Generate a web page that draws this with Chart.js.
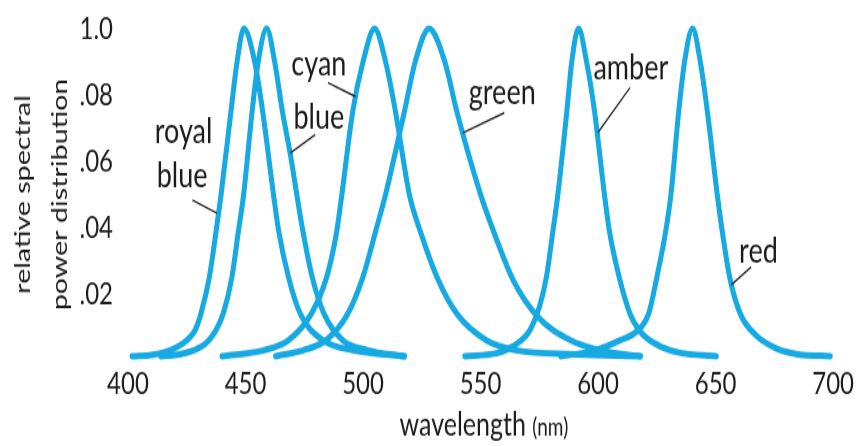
<!DOCTYPE html>
<html>
<head>
<meta charset="utf-8">
<script src="https://cdn.jsdelivr.net/npm/chart.js@4.4.1/dist/chart.umd.min.js"></script>
<style>
  html, body { margin: 0; padding: 0; background: #fff; }
  body { width: 860px; height: 446px; }
  /* the source figure is stretched vertically, so the canvas is too */
  #wrap { width: 860px; height: 343px; transform: scale(1, 1.3003); transform-origin: 0 0; }
</style>
</head>
<body>
<div id="wrap"><canvas id="spectra" width="860" height="343"></canvas></div>
<script>
// wavelength (nm) / relative power, one pair per LED
const royalBlueNm  = [401.7, 410, 416, 421, 425, 428.5, 431, 434.6, 437.5, 439.6, 443.8, 446.4, 449.3, 453.9, 457.3, 461.9, 464.1, 468.3, 473.3, 483, 495.7, 517.6];
const royalBlueVal = [0.012, 0.016, 0.025, 0.04, 0.06, 0.09, 0.14, 0.25, 0.39, 0.50, 0.75, 0.90, 1.0, 0.90, 0.75, 0.50, 0.39, 0.25, 0.14, 0.06, 0.03, 0.012];

const blueNm  = [414, 422, 428, 433, 437, 440.5, 444.2, 447, 449.2, 452.8, 455.4, 459, 462.4, 465.7, 469.1, 471.8, 474.4, 478.4, 483.4, 491.4, 502, 517.6];
const blueVal = [0.012, 0.018, 0.03, 0.05, 0.085, 0.14, 0.25, 0.39, 0.50, 0.75, 0.90, 1.0, 0.90, 0.75, 0.62, 0.50, 0.39, 0.25, 0.14, 0.06, 0.03, 0.012];

const cyanNm  = [440, 457.7, 468.3, 478, 484.5, 488.6, 491, 495.6, 500, 504.9, 509.6, 513.8, 519.7, 524.3, 531.5, 539.9, 552.5, 565.2, 590, 618];
const cyanVal = [0.012, 0.03, 0.06, 0.14, 0.25, 0.38, 0.50, 0.75, 0.90, 1.0, 0.90, 0.75, 0.50, 0.39, 0.25, 0.14, 0.06, 0.03, 0.018, 0.012];

const greenNm  = [462.8, 474.6, 484.3, 493.5, 499.9, 505.4, 509.6, 517.6, 522.2, 528.1, 534.8, 539.9, 550, 556, 564, 574.5, 588.4, 601, 618];
const greenVal = [0.012, 0.03, 0.06, 0.14, 0.25, 0.39, 0.50, 0.75, 0.90, 1.0, 0.90, 0.75, 0.50, 0.38, 0.24, 0.13, 0.06, 0.03, 0.012];

const amberNm  = [543.3, 556.8, 562.2, 567.3, 571, 575, 578, 580.8, 582.9, 586.7, 588.8, 591.7, 595.1, 598.5, 602.7, 604.8, 609, 613.6, 617, 621, 627, 635, 650.3];
const amberVal = [0.012, 0.021, 0.036, 0.06, 0.09, 0.16, 0.25, 0.39, 0.50, 0.75, 0.90, 1.0, 0.90, 0.75, 0.50, 0.39, 0.25, 0.14, 0.095, 0.065, 0.04, 0.022, 0.012];

const redNm  = [584.2, 598.9, 609.4, 617, 621.5, 625, 628.8, 631, 634.3, 636.8, 640.2, 643.5, 646.5, 650.7, 652.8, 656, 660.5, 667.2, 676, 685, 698.8];
const redVal = [0.012, 0.03, 0.06, 0.09, 0.14, 0.25, 0.39, 0.50, 0.75, 0.90, 1.0, 0.90, 0.75, 0.50, 0.39, 0.25, 0.14, 0.075, 0.035, 0.018, 0.012];

const yTickLabels = ['', '.02', '.04', '.06', '.08', '1.0'];

// curve names: text lines, where each line starts (nm, value) and the leader line
const curveLabels = [
  { lines: ['royal', 'blue'], at: [[411.4, 0.653], [412.2, 0.52]], from: [427.4, 0.483], to: [437.8, 0.444] },
  { lines: ['cyan'],  at: [[469.5, 0.858]], from: [485.1, 0.837], to: [496.8, 0.795] },
  { lines: ['blue'],  at: [[470.4, 0.70]],  from: [479.6, 0.680], to: [469.1, 0.625] },
  { lines: ['green'], at: [[545, 0.773]],   from: [560.1, 0.746], to: [542.5, 0.686] },
  { lines: ['amber'], at: [[598, 0.849]],   from: [613.6, 0.822], to: [599.9, 0.686] },
  { lines: ['red'],   at: [[660, 0.296]],   from: [665.1, 0.281], to: [656.6, 0.227] }
];

const lineColor = '#16a9e2';
const textColor = '#1c1c1c';
const xTickFont = { family: 'Lato, sans-serif', size: 24, lineHeight: 1 };
// small line height keeps the top label from pushing the plot area down
const yTickFont = { family: 'Lato, sans-serif', size: 24, lineHeight: 0.55 };

function toPoints(nm, val) {
  return nm.map((x, i) => ({ x, y: val[i] }));
}

const series = [
  ['royal blue', royalBlueNm, royalBlueVal],
  ['blue', blueNm, blueVal],
  ['cyan', cyanNm, cyanVal],
  ['green', greenNm, greenVal],
  ['amber', amberNm, amberVal],
  ['red', redNm, redVal]
];

const datasets = series.map(([label, nm, val]) => ({
  label,
  data: toPoints(nm, val),
  borderColor: lineColor,
  borderWidth: 5,
  borderCapStyle: 'round',
  borderJoinStyle: 'round',
  pointRadius: 0,
  cubicInterpolationMode: 'monotone',
  fill: false,
  clip: false
}));

// writes the curve names with their leader lines, and the x axis name
// ("wavelength" big, "(nm)" small, which the built-in title can't do)
const curveLabelPlugin = {
  id: 'curveLabels',
  afterDraw(chart) {
    const { ctx, chartArea, scales: { x, y } } = chart;
    ctx.save();
    ctx.font = '27px Lato, sans-serif';
    ctx.fillStyle = textColor;
    ctx.strokeStyle = '#2a2a2a';
    ctx.lineWidth = 1.4;
    ctx.textBaseline = 'alphabetic';
    curveLabels.forEach(l => {
      ctx.beginPath();
      ctx.moveTo(x.getPixelForValue(l.from[0]), y.getPixelForValue(l.from[1]));
      ctx.lineTo(x.getPixelForValue(l.to[0]), y.getPixelForValue(l.to[1]));
      ctx.stroke();
      l.lines.forEach((t, i) => {
        ctx.fillText(t, x.getPixelForValue(l.at[i][0]), y.getPixelForValue(l.at[i][1]));
      });
    });

    const mid = (chartArea.left + chartArea.right) / 2;
    const base = x.bottom - 8;
    ctx.font = '25px Lato, sans-serif';
    const w = ctx.measureText('wavelength ').width;
    ctx.fillText('wavelength ', mid - 81, base);
    ctx.font = '19px Lato, sans-serif';
    ctx.fillText('(nm)', mid - 81 + w, base);
    ctx.restore();
  }
};

new Chart(document.getElementById('spectra'), {
  type: 'line',
  data: { datasets },
  options: {
    responsive: false,
    animation: false,
    devicePixelRatio: 1,
    layout: { padding: { top: 22, right: 20, left: 0, bottom: 0 } },
    plugins: { legend: { display: false }, tooltip: { enabled: false } },
    scales: {
      x: {
        type: 'linear',
        min: 400,
        max: 700,
        border: { display: false },
        grid: { display: false, drawTicks: false },
        ticks: { stepSize: 50, padding: 6, maxRotation: 0, color: textColor, font: xTickFont },
        afterFit: s => { s.height = 66; }
      },
      y: {
        min: 0,
        max: 1,
        border: { display: false },
        grid: { display: false, drawTicks: false },
        ticks: { stepSize: 0.2, padding: 15, color: textColor, font: yTickFont, callback: (v, i) => yTickLabels[i] },
        title: {
          display: true,
          text: ['relative spectral', 'power distribution'],
          color: textColor,
          font: { family: 'Lato, sans-serif', size: 22, lineHeight: 1.68 },
          padding: { top: 4, bottom: 0 }
        },
        afterFit: s => { s.width = 128; }
      }
    }
  },
  plugins: [curveLabelPlugin]
});
</script>
</body>
</html>
